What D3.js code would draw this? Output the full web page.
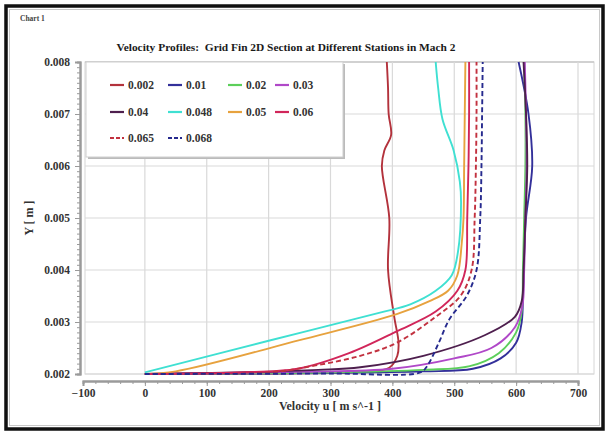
<!DOCTYPE html>
<html>
<head>
<meta charset="utf-8">
<script src="https://cdn.jsdelivr.net/npm/d3@7"></script>
<style>
  body { margin: 0; background: #fff; }
  text { font-family: "Liberation Serif", "DejaVu Serif", serif; font-weight: bold; }
</style>
</head>
<body>
<div id="svg-container"></div>
<script>
// legend labels (station positions)
var stations = ["0.002", "0.01", "0.02", "0.03", "0.04", "0.048", "0.05", "0.06", "0.065", "0.068"];

// profiles: [u (m/s), Y (m)]
var p0002 = [[0,0.002],[200,0.00201],[350,0.00204],[395,0.00212],[408,0.00235],[410,0.0026],[403,0.0031],[393,0.004],[395,0.005],[383,0.006],[387,0.0063],[398,0.0066],[394,0.007],[393,0.0075],[391,0.008]];
var p001  = [[0,0.002],[300,0.00202],[450,0.00205],[530,0.0021],[575,0.0023],[600,0.0026],[609,0.003],[611,0.0035],[612,0.004],[616,0.005],[626,0.006],[620,0.007],[604,0.008]];
var p002  = [[0,0.002],[300,0.00203],[450,0.00208],[525,0.00215],[572,0.0024],[600,0.0028],[609,0.0032],[611,0.004],[613,0.005],[615,0.006],[615,0.007],[613,0.008]];
var p003  = [[0,0.002],[250,0.00204],[400,0.0021],[500,0.0023],[560,0.0025],[598,0.0029],[610,0.0033],[613,0.004],[615,0.005],[617,0.006],[616,0.007],[614,0.008]];
var p004  = [[0,0.002],[150,0.00203],[280,0.00208],[348,0.00213],[450,0.00235],[550,0.00275],[598,0.0031],[609,0.0034],[612,0.004],[615,0.005],[618,0.006],[616,0.007],[612,0.008]];
var p0048 = [[0,0.00203],[200,0.00264],[380,0.00318],[429,0.00334],[470,0.0036],[496,0.0039],[506,0.00435],[511,0.0053],[509,0.0057],[499,0.0063],[481,0.0069],[474,0.0075],[470,0.008]];
var p005  = [[0,0.002],[50,0.00205],[250,0.00265],[407,0.00315],[460,0.0034],[490,0.0036],[505,0.0039],[512,0.0045],[515,0.005],[516,0.006],[517,0.007],[518,0.008]];
var p006  = [[0,0.002],[150,0.00203],[247,0.0021],[330,0.0024],[407,0.00282],[470,0.0032],[505,0.0036],[518,0.004],[521,0.005],[523,0.006],[524,0.007],[524,0.008]];
var p0065 = [[0,0.002],[200,0.00203],[274,0.00216],[348,0.00235],[407,0.0026],[470,0.0031],[510,0.0035],[528,0.004],[533,0.005],[535,0.006],[536,0.007],[536,0.008]];
var p0068 = [[0,0.002],[300,0.00201],[445,0.00203],[456,0.00215],[475,0.0026],[492,0.00305],[520,0.0035],[536,0.004],[542,0.005],[544,0.006],[545,0.007],[546,0.008]];

// axis ticks
var xTicks = [-100, 0, 100, 200, 300, 400, 500, 600, 700];
var yTicks = [0.002, 0.003, 0.004, 0.005, 0.006, 0.007, 0.008];

// look of each profile
var colors = ["#b3323c", "#33309a", "#5ccf5a", "#b048c8", "#4e1f4e", "#3fe0d2", "#e7a23e", "#d1265a", "#c2313f", "#262a8e"];
var dashes = [null, null, null, null, null, null, null, null, "5,3", "5,3"];

var profiles = [p0002, p001, p002, p003, p004, p0048, p005, p006, p0065, p0068];
var series = stations.map((s, i) => ({name: s, pts: profiles[i], color: colors[i], dash: dashes[i]}));

var W = 608, H = 433;
var svg = d3.select("#svg-container")
  .append("svg")
  .attr("width", W)
  .attr("height", H);

// outer frame
svg.append("rect").attr("x", 0).attr("y", 0).attr("width", W).attr("height", H).attr("fill", "#fff");
svg.append("rect")
  .attr("x", 6).attr("y", 6).attr("width", 597).attr("height", 423)
  .attr("fill", "none").attr("stroke", "#111").attr("stroke-width", 3.5);
svg.append("rect")
  .attr("x", 9.5).attr("y", 9.5).attr("width", 590).attr("height", 416)
  .attr("fill", "none").attr("stroke", "#c8c8c8").attr("stroke-width", 1);

svg.append("text")
  .attr("x", 20).attr("y", 21)
  .style("font-size", "7.5px").attr("fill", "#444")
  .text("Chart 1");

svg.append("text")
  .attr("x", 286).attr("y", 51)
  .attr("text-anchor", "middle")
  .style("font-size", "11.4px").attr("fill", "#1a1a1a")
  .style("white-space", "pre")
  .text("Velocity Profiles:  Grid Fin 2D Section at Different Stations in Mach 2");

// scales
const x = d3.scaleLinear().domain([-100, 700]).range([83, 578]);
const y = d3.scaleLinear().domain([0.002, 0.008]).range([374, 62]);

// plot frame
svg.append("rect")
  .attr("x", 85).attr("y", 62).attr("width", 509).attr("height", 312)
  .attr("fill", "#fff").attr("stroke", "#d6d6d6").attr("stroke-width", 1);
svg.append("line")
  .attr("x1", 85).attr("x2", 594).attr("y1", 62).attr("y2", 62)
  .attr("stroke", "#bdbdbd").attr("stroke-width", 1.5);

// grid
const grid = svg.append("g").attr("class", "grid");
grid.selectAll(".gx").data(xTicks.filter(d => d > -100)).enter().append("line")
  .attr("x1", d => x(d)).attr("x2", d => x(d))
  .attr("y1", 62).attr("y2", 374)
  .attr("stroke", "#d9d9d9").attr("stroke-width", 1.2);
grid.selectAll(".gy").data(yTicks).enter().append("line")
  .attr("x1", 85).attr("x2", 594)
  .attr("y1", d => y(d)).attr("y2", d => y(d))
  .attr("stroke", "#d9d9d9").attr("stroke-width", 1.2);

// axes
const yAxis = g => g
  .attr("transform", "translate(80,0)")
  .call(d3.axisLeft(y).tickValues(yTicks).tickSize(5).tickPadding(5).tickFormat(d3.format(".3f")));
const yMinor = g => g
  .attr("transform", "translate(80,0)")
  .call(d3.axisLeft(y).tickValues(d3.range(20, 81).map(d => d / 10000)).tickSize(3).tickFormat(""));
const xAxis = g => g
  .attr("transform", "translate(0,381)")
  .call(d3.axisBottom(x).tickValues(xTicks).tickSize(5).tickPadding(3).tickFormat(d3.format("d")));
const xMinor = g => g
  .attr("transform", "translate(0,381)")
  .call(d3.axisBottom(x).tickValues(d3.range(-100, 701, 20)).tickSize(3).tickFormat(""));

svg.append("g").attr("class", "y-minor").call(yMinor);
svg.append("g").attr("class", "x-minor").call(xMinor);
svg.append("g").attr("class", "y-axis").call(yAxis);
svg.append("g").attr("class", "x-axis").call(xAxis);
svg.selectAll(".domain").attr("stroke", "#9a9a9a").attr("stroke-width", 2);
svg.selectAll(".tick line").attr("stroke", "#9a9a9a");
svg.selectAll(".tick text")
  .style("font-size", "11.5px").attr("fill", "#333")
  .style("font-family", "Liberation Serif, serif").style("font-weight", "bold");

svg.append("text")
  .attr("transform", "translate(33,218) rotate(-90)")
  .attr("text-anchor", "middle")
  .style("font-size", "12px").attr("fill", "#333")
  .text("Y [ m ]");
svg.append("text")
  .attr("x", 330).attr("y", 410)
  .attr("text-anchor", "middle")
  .style("font-size", "12px").attr("fill", "#333")
  .text("Velocity u [ m s^-1 ]");

// profiles
const line = d3.line()
  .x(d => x(d[0]))
  .y(d => y(d[1]))
  .curve(d3.curveCatmullRom.alpha(0.5));

const main = svg.append("g").attr("class", "main");
main.selectAll(".profile")
  .data(series)
  .enter().append("path")
  .attr("class", "profile")
  .attr("d", d => line(d.pts))
  .attr("fill", "none")
  .attr("stroke", d => d.color)
  .attr("stroke-width", 1.9)
  .attr("stroke-dasharray", d => d.dash);

// legend
const legend = svg.append("g").attr("class", "legend");
legend.append("rect")
  .attr("x", 88).attr("y", 64).attr("width", 257).attr("height", 95)
  .attr("fill", "#bbb");
legend.append("rect")
  .attr("x", 86).attr("y", 62).attr("width", 257).attr("height", 95)
  .attr("fill", "#fff").attr("stroke", "#cfcfcf");

const colX = [110, 168, 228, 275];
const rowY = [85, 112, 138];
const items = legend.selectAll(".item")
  .data(series)
  .enter().append("g")
  .attr("class", "item")
  .attr("transform", (d, i) => "translate(" + colX[i % 4] + "," + rowY[Math.floor(i / 4)] + ")");
items.append("line")
  .attr("x1", 0).attr("x2", 14)
  .attr("stroke", d => d.color)
  .attr("stroke-width", 2.2)
  .attr("stroke-dasharray", d => d.dash ? "4,2" : null);
items.append("text")
  .attr("x", 18).attr("y", 4)
  .style("font-size", "11.5px").attr("fill", "#333")
  .text(d => d.name);
</script>
</body>
</html>
